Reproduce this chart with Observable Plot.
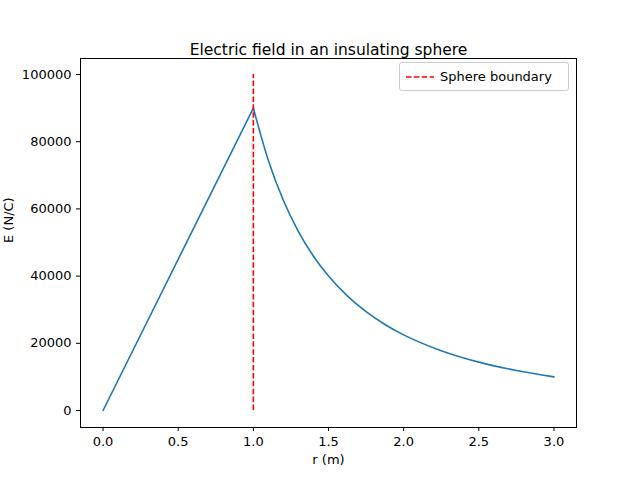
<!DOCTYPE html>
<html>
<head>
<meta charset="utf-8">
<script src="https://cdn.jsdelivr.net/npm/d3@7"></script>
<script src="https://cdn.jsdelivr.net/npm/@observablehq/plot@0.6"></script>
<style>
  body { margin: 0; background: white; font-family: "DejaVu Sans", sans-serif; }
  #wrap { position: relative; width: 640px; height: 480px; }
  #legend { position: absolute; left: 399px; top: 62px; width: 168px; height: 27px;
    border: 1px solid #ccc; border-radius: 3px; background: white; font-size: 13px;
    display: flex; align-items: center; }
  #legend svg { margin: 0 6px 0 6px; }
</style>
</head>
<body>
<div id="wrap"><div id="chart"></div>
  <div id="legend"><svg width="28" height="4"><line x1="0" y1="2" x2="28" y2="2" stroke="red" stroke-width="1.5" stroke-dasharray="5.5,2.4"/></svg>Sphere boundary</div>
</div>
<script>
// field values
const rInside = [0, 1];
const eInside = [0, 90000];
const rOutside = [1, 1.1, 1.2, 1.3, 1.4, 1.5, 1.625, 1.75, 1.875, 2, 2.25, 2.5, 2.75, 3];
const eOutside = [90000, 74400, 62500, 53250, 45900, 40000, 34100, 29400, 25600, 22500, 17800, 14400, 11900, 10000];
const yTicks = [0, 20000, 40000, 60000, 80000, 100000];
const xTicks = [0, 0.5, 1, 1.5, 2, 2.5, 3];

const inside = rInside.map((r, i) => ({r, e: eInside[i]}));
const outside = rOutside.map((r, i) => ({r, e: eOutside[i]}));

const chart = Plot.plot({
  width: 640,
  height: 480,
  marginTop: 58,
  marginBottom: 53,
  marginLeft: 80,
  marginRight: 64,
  style: {fontSize: "13px", fontFamily: "DejaVu Sans, sans-serif", color: "black"},
  x: {domain: [-0.15, 3.15], ticks: xTicks, tickFormat: d3.format(".1f"), label: null},
  y: {domain: [-5060, 104760], ticks: yTicks, tickFormat: d => String(d), label: null},
  marks: [
    Plot.frame({stroke: "black"}),
    Plot.axisX({ticks: xTicks, tickFormat: d3.format(".1f"), tickSize: 4, label: null}),
    Plot.axisY({ticks: yTicks, tickFormat: d => String(d), tickSize: 4, label: null}),
    Plot.line(inside, {x: "r", y: "e", stroke: "#1f77b4", strokeWidth: 1.6}),
    Plot.line(outside, {x: "r", y: "e", stroke: "#1f77b4", strokeWidth: 1.6, curve: "monotone-x"}),
    Plot.ruleX([1], {y1: 0, y2: 100000, stroke: "red", strokeWidth: 1.6, strokeDasharray: "5.5,2.4"}),
    Plot.text(["Electric field in an insulating sphere"], {frameAnchor: "top", dy: -15, fontSize: 15.5}),
    Plot.text(["r (m)"], {frameAnchor: "bottom", dy: 36}),
    Plot.text(["E (N/C)"], {frameAnchor: "left", dx: -72, rotate: -90})
  ]
});
d3.select("#chart").append(() => chart);
</script>
</body>
</html>
